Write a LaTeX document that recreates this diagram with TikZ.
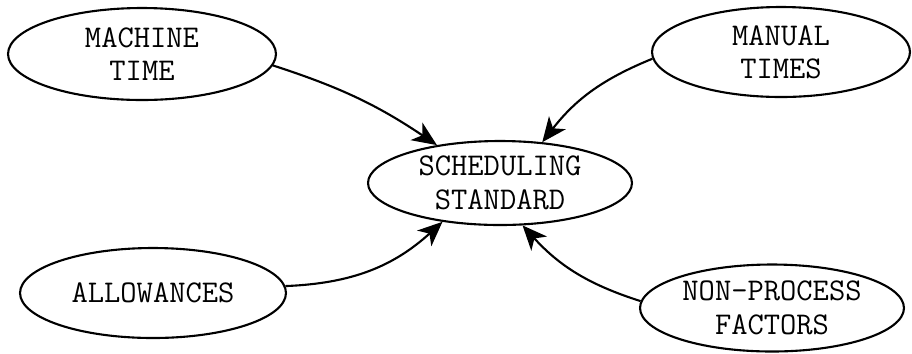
\documentclass[tikz,border=0pt]{standalone}
\usepackage{fontspec}
\usepackage{tikz}
\usetikzlibrary{arrows.meta}
\usetikzlibrary{shapes.geometric}

\begin{document}
\begin{tikzpicture}[x=0.02cm,y=-0.02cm]
        \useasboundingbox (0,0) rectangle (912,353);

        \begin{scope}[every node/.style={draw,ellipse,line width=1.2pt,inner sep=0pt,
                align=center,font=\fontsize{18}{19}\selectfont\ttfamily}]
            \node[minimum width=5.36cm,minimum height=1.84cm] (machine) at (142,54)  {MACHINE\\TIME};
            \node[minimum width=5.16cm,minimum height=1.80cm] (manual)  at (781,52)  {MANUAL\\TIMES};
            \node[minimum width=5.28cm,minimum height=1.68cm] (sched)   at (500,183) {SCHEDULING\\STANDARD};
            \node[minimum width=5.32cm,minimum height=1.80cm] (allow)   at (153,293) {ALLOWANCES};
            \node[minimum width=5.28cm,minimum height=1.74cm] (nonproc) at (772,308) {NON-PROCESS\\FACTORS};
        \end{scope}

        \begin{scope}[>={Stealth[length=14pt,width=12pt,inset=4pt]},
                every edge/.style={draw,line width=1.2pt}]
            \path [->] (machine.-5) edge[bend left=8]   (sched.149);
            \path [->] (manual.183) edge[bend right=15] (sched.44);
            \path [->] (allow.3)    edge[bend right=20] (sched.214);
            \path [->] (nonproc.177) edge[bend left=15] (sched.-62);
        \end{scope}
\end{tikzpicture}
\end{document}
